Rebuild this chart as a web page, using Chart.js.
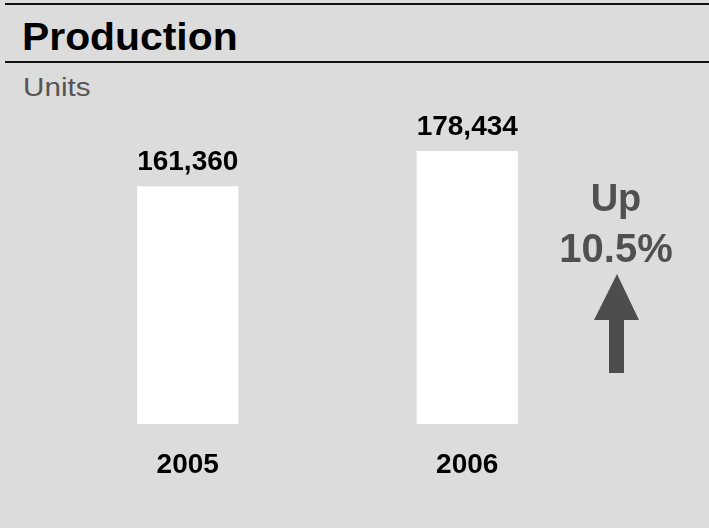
<!DOCTYPE html>
<html>
<head>
<meta charset="utf-8">
<script src="https://cdn.jsdelivr.net/npm/chart.js@4"></script>
<style>
  html, body { margin: 0; padding: 0; }
  #page {
    position: relative;
    width: 709px;
    height: 528px;
    background: #dcdcdc;
    font-family: "Liberation Sans", Arial, sans-serif;
    overflow: hidden;
  }
  .rule { position: absolute; left: 5px; right: 0; height: 2px; background: #111; }
  #title { position: absolute; left: 22px; top: 18px; font-size: 38px; line-height: 38px; font-weight: bold; color: #000; transform: scaleX(1.075); transform-origin: left top; }
  #units { position: absolute; left: 23px; top: 74px; font-size: 26px; line-height: 26px; color: #555; transform: scaleX(1.14); transform-origin: left top; }
  .change { position: absolute; left: 536px; width: 160px; text-align: center; font-weight: bold; color: #505050; }
  #chartBox { position: absolute; left: 0; top: 0; width: 709px; height: 528px; }
  #arrow { position: absolute; left: 0; top: 0; }
</style>
</head>
<body>
<div id="page">
  <div class="rule" style="top:3px"></div>
  <div id="title">Production</div>
  <div class="rule" style="top:61px"></div>
  <div id="units">Units</div>
  <div id="chartBox"><canvas id="myChart" width="709" height="528"></canvas></div>
  <div class="change" style="top:179px;font-size:38px;line-height:38px">Up</div>
  <div class="change" style="top:228px;font-size:40px;line-height:40px">10.5%</div>
  <svg id="arrow" width="709" height="528">
    <polygon points="617,274 639,320 624,320 624,373 609,373 609,320 594,320" fill="#4d4d4d"/>
  </svg>
</div>
<script>
// data
let years = ['2005', '2006'];
let units = [161360, 178434];

// value axis range (bars do not start from zero in the original)
let yMin = 45700,
    yMax = 203300;

// draws the numbers above the bars
const valueLabels = {
    id: 'valueLabels',
    afterDatasetsDraw(chart) {
        let ctx = chart.ctx;
        let meta = chart.getDatasetMeta(0);
        ctx.save();
        ctx.font = 'bold 28px "Liberation Sans", Arial, sans-serif';
        ctx.fillStyle = '#000';
        ctx.textAlign = 'center';
        ctx.textBaseline = 'alphabetic';
        meta.data.forEach((bar, i) => {
            ctx.fillText(units[i].toLocaleString('en-US'), bar.x, bar.y - 16);
        });
        ctx.restore();
    }
};

let ctx = document.getElementById('myChart').getContext('2d');
let myChart = new Chart(ctx, {
    type: 'bar',
    data: {
        labels: years,
        datasets: [{
            label: 'Units',
            data: units,
            backgroundColor: '#ffffff',
            borderWidth: 0,
            barPercentage: 0.362,
            categoryPercentage: 1
        }]
    },
    options: {
        responsive: false,
        animation: false,
        layout: { padding: { left: 48, right: 102, top: 100, bottom: 22.4 } },
        plugins: {
            legend: { display: false },
            tooltip: { enabled: false }
        },
        scales: {
            x: {
                grid: { display: false, drawTicks: false },
                border: { display: false },
                ticks: {
                    color: '#000',
                    padding: 24,
                    font: { family: '"Liberation Sans", Arial, sans-serif', size: 28, weight: 'bold' }
                }
            },
            y: {
                display: false,
                min: yMin,
                max: yMax
            }
        }
    },
    plugins: [valueLabels]
});
</script>
</body>
</html>
